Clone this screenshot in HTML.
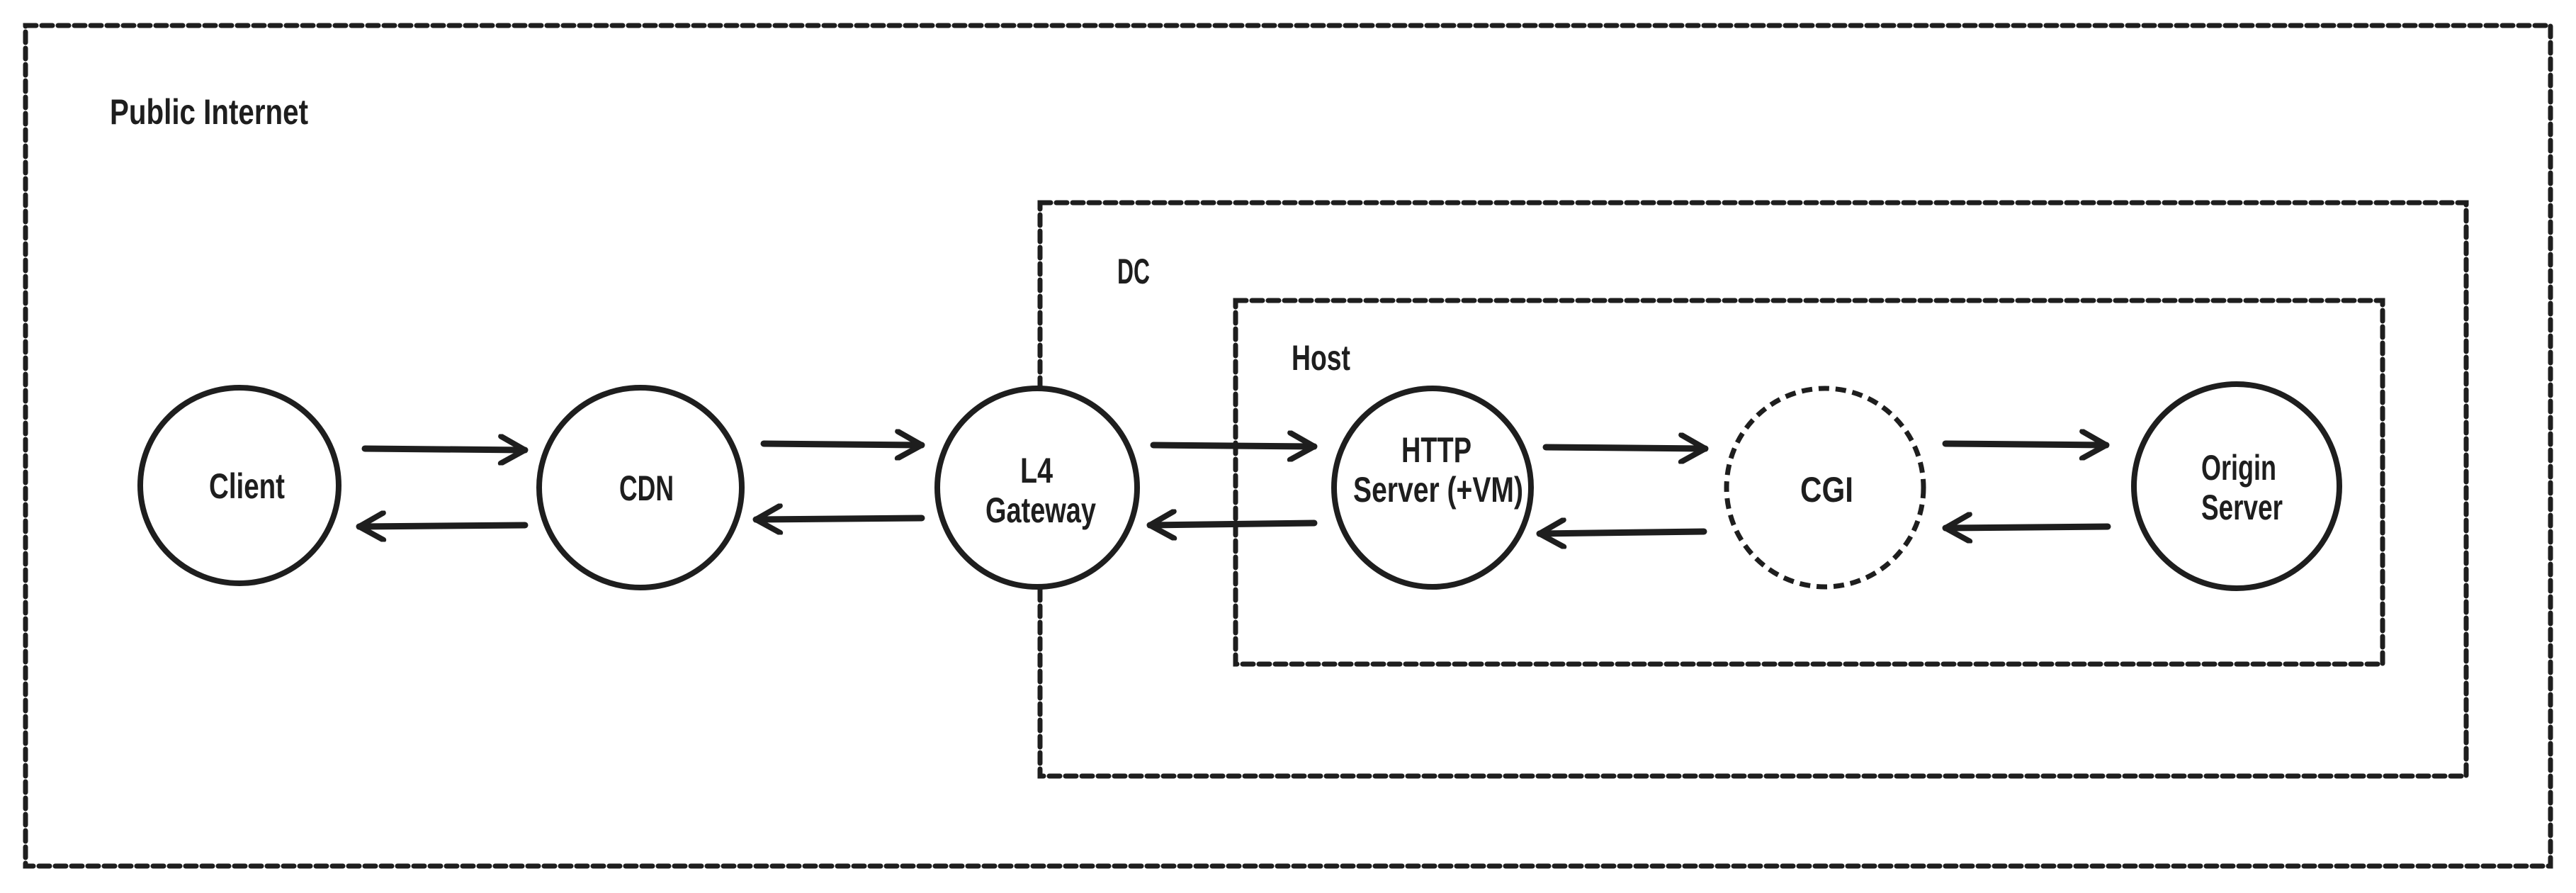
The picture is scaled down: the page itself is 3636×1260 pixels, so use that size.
<!DOCTYPE html>
<html><head><meta charset="utf-8"><style>
html,body{margin:0;padding:0;background:#fff}
svg{display:block}
text{font-family:"Liberation Sans Narrow","Liberation Sans",sans-serif;font-weight:bold;fill:#1e1e1e;font-size:50px}
</style></head><body>
<svg width="3636" height="1260" viewBox="0 0 3636 1260" xmlns="http://www.w3.org/2000/svg">
<defs>
<marker id="ah" viewBox="0 0 44 44" refX="40" refY="22" markerWidth="44" markerHeight="44" markerUnits="userSpaceOnUse" orient="auto">
<path d="M6 3 L40 22 L6 41" fill="none" stroke="#1e1e1e" stroke-width="8" stroke-linecap="round" stroke-linejoin="round"/>
</marker>
</defs>
<g fill="none" stroke="#1e1e1e" stroke-width="7" stroke-dasharray="15 8" stroke-linecap="round">
<rect x="36" y="36" width="3564" height="1186"/>
<rect x="1468" y="286" width="2013" height="809"/>
<rect x="1744" y="424" width="1619" height="513"/>
</g>
<g fill="#fff" stroke="#1e1e1e" stroke-width="8">
<ellipse cx="338" cy="685" rx="140" ry="138"/>
<ellipse cx="904" cy="688" rx="143" ry="141"/>
<ellipse cx="1464" cy="688" rx="141" ry="140"/>
<ellipse cx="2022" cy="688" rx="139" ry="140"/>
<ellipse cx="2576" cy="688" rx="139" ry="140" stroke-dasharray="15 9" stroke-width="7"/>
<ellipse cx="3157" cy="686" rx="145" ry="144"/>
</g>
<g stroke="#1e1e1e" stroke-width="9" stroke-linecap="round" fill="none" marker-end="url(#ah)">
<line x1="515" y1="633" x2="741" y2="635"/>
<line x1="741" y1="741" x2="507" y2="743"/>
<line x1="1078" y1="626" x2="1301" y2="628"/>
<line x1="1301" y1="731" x2="1067" y2="733"/>
<line x1="1628" y1="628" x2="1855" y2="630"/>
<line x1="1855" y1="738" x2="1623" y2="741"/>
<line x1="2182" y1="631" x2="2407" y2="633"/>
<line x1="2405" y1="750" x2="2173" y2="753"/>
<line x1="2746" y1="626" x2="2973" y2="628"/>
<line x1="2975" y1="743" x2="2746" y2="745"/>
</g>
<text x="155" y="175" textLength="280" lengthAdjust="spacingAndGlyphs">Public Internet</text>
<text x="1577" y="400" textLength="46" lengthAdjust="spacingAndGlyphs">DC</text>
<text x="1823" y="522" textLength="83" lengthAdjust="spacingAndGlyphs">Host</text>
<text x="295" y="703" textLength="107" lengthAdjust="spacingAndGlyphs">Client</text>
<text x="874" y="706" textLength="77" lengthAdjust="spacingAndGlyphs">CDN</text>
<text x="1440" y="681" textLength="46" lengthAdjust="spacingAndGlyphs">L4</text>
<text x="1391" y="737" textLength="156" lengthAdjust="spacingAndGlyphs">Gateway</text>
<text x="1978" y="652" textLength="99" lengthAdjust="spacingAndGlyphs">HTTP</text>
<text x="1910" y="708" textLength="240" lengthAdjust="spacingAndGlyphs">Server (+VM)</text>
<text x="2541" y="708" textLength="75" lengthAdjust="spacingAndGlyphs">CGI</text>
<text x="3107" y="677" textLength="106" lengthAdjust="spacingAndGlyphs">Origin</text>
<text x="3107" y="733" textLength="115" lengthAdjust="spacingAndGlyphs">Server</text>
</svg>
</body></html>
